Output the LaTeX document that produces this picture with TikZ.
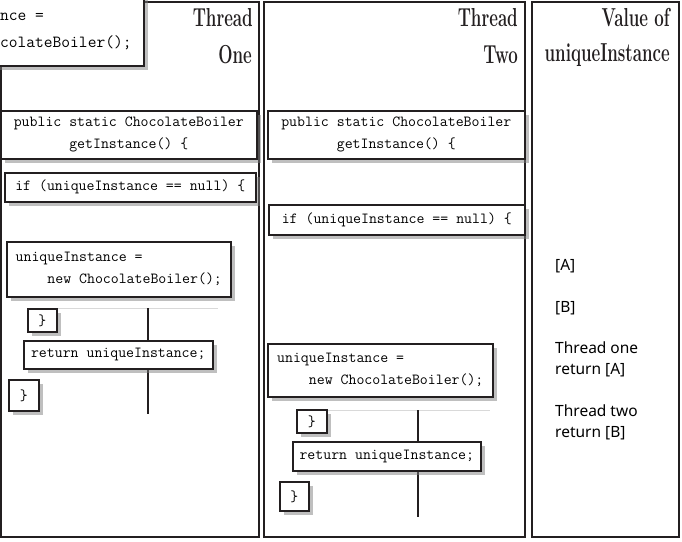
\documentclass[tikz,border=0pt]{standalone}
\usepackage{fontspec}
\usepackage{graphicx}
\newfontfamily\valuefont{Noto Sans}
\usepackage{tikz}
\usetikzlibrary{shadows}
\definecolor{inkblack}{HTML}{231F20}
\tikzstyle{column} = [
    draw=inkblack,
    line width=2pt
]
\tikzstyle{codebox} = [
    rectangle,
    draw=inkblack,
    line width=1.6pt,
    fill=white,
    drop shadow={shadow xshift=4pt, shadow yshift=-4pt, opacity=0.5, fill=gray},
    anchor=north west,
    inner sep=0pt,
    font=\fontsize{15.4}{22}\selectfont\ttfamily
]
\tikzstyle{bracebox} = [
    codebox,
    align=center
]
\tikzstyle{heading} = [
    anchor=east,
    inner sep=0pt,
    text=inkblack,
    font=\fontsize{26}{30}\selectfont\bfseries
]
\tikzstyle{valuetext} = [
    anchor=west,
    align=left,
    inner sep=0pt,
    font=\valuefont\fontsize{15.5}{21}\selectfont
]
\tikzstyle{timeline} = [
    draw=inkblack,
    line width=1.6pt
]
\newcommand{\ind}{\phantom{xxxx}}
\newcommand{\headtext}[1]{\scalebox{0.65}[1]{#1}}

\begin{document}
\begin{tikzpicture}[x=1pt, y=-1pt]
    \useasboundingbox (0,0) rectangle (682,541);
    \clip (0,0) rectangle (682,541);

    % Columns
    \draw[column] (1,2) rectangle (259,537);
    \draw[column] (264,2) rectangle (525,537);
    \draw[column] (532,2) rectangle (679,537);

    % Headings
    \node[heading] (oneA) at (253,18) {\headtext{Thread}};
    \node[heading] (oneB) at (252,55) {\headtext{One}};
    \node[heading] (twoA) at (518,18) {\headtext{Thread}};
    \node[heading] (twoB) at (518,55) {\headtext{Two}};
    \node[heading] (valA) at (670,18) {\headtext{Value of}};
    \node[heading] (valB) at (670,55) {\headtext{uniqueInstance}};

    % Timelines
    \coordinate (t1top) at (148,308);
    \coordinate (t1bot) at (148,414);
    \coordinate (t2top) at (418,410);
    \coordinate (t2bot) at (418,517);
    \draw[gray!30, line width=1pt] (56,308) -- (218,308);
    \draw[gray!30, line width=1pt] (326,410) -- (490,410);
    \draw[timeline] (t1top) -- (t1bot);
    \draw[timeline] (t2top) -- (t2bot);

    % Thread one
    \node[codebox, minimum width=163, minimum height=75] (cut1) at (-20,-10) {};
    \node[anchor=west, inner sep=0pt, font=\fontsize{17}{22}\selectfont\ttfamily] (cutA) at (0,17) {nce =};
    \node[anchor=west, inner sep=0pt, font=\fontsize{17}{22}\selectfont\ttfamily] (cutB) at (0,43) {colateBoiler();};
    \node[codebox, align=center, minimum width=256, minimum height=48] (pub1) at (0,110)
        {public static ChocolateBoiler\\getInstance() \{};
    \node[codebox, minimum width=251, minimum height=29] (if1) at (4,172)
        {if (uniqueInstance == null) \{};
    \node[codebox, align=left, minimum width=224, minimum height=55] (new1) at (6,241)
        {uniqueInstance =\\\ind new ChocolateBoiler();};
    \node[bracebox, minimum width=29, minimum height=23] (close1a) at (27,308) {\}};
    \node[codebox, minimum width=189, minimum height=28] (ret1) at (23,340)
        {return uniqueInstance;};
    \node[bracebox, minimum width=30, minimum height=31] (close1b) at (8,379) {\}};

    % Thread two
    \node[codebox, align=center, minimum width=257, minimum height=48] (pub2) at (267,110)
        {public static ChocolateBoiler\\getInstance() \{};
    \node[codebox, minimum width=256, minimum height=30] (if2) at (268,204)
        {if (uniqueInstance == null) \{};
    \node[codebox, align=left, minimum width=225, minimum height=53] (new2) at (267,343)
        {uniqueInstance =\\\ind new ChocolateBoiler();};
    \node[bracebox, minimum width=30, minimum height=23] (close2a) at (296,409) {\}};
    \node[codebox, minimum width=188, minimum height=29] (ret2) at (292,441)
        {return uniqueInstance;};
    \node[bracebox, minimum width=29, minimum height=29] (close2b) at (279,481) {\}};

    % Values
    \node[valuetext] (valueA) at (555,266) {[A]};
    \node[valuetext] (valueB) at (555,308) {[B]};
    \node[valuetext] (retA) at (555,359.5) {Thread one\\return [A]};
    \node[valuetext] (retB) at (555,422.5) {Thread two\\return [B]};
\end{tikzpicture}
\end{document}
